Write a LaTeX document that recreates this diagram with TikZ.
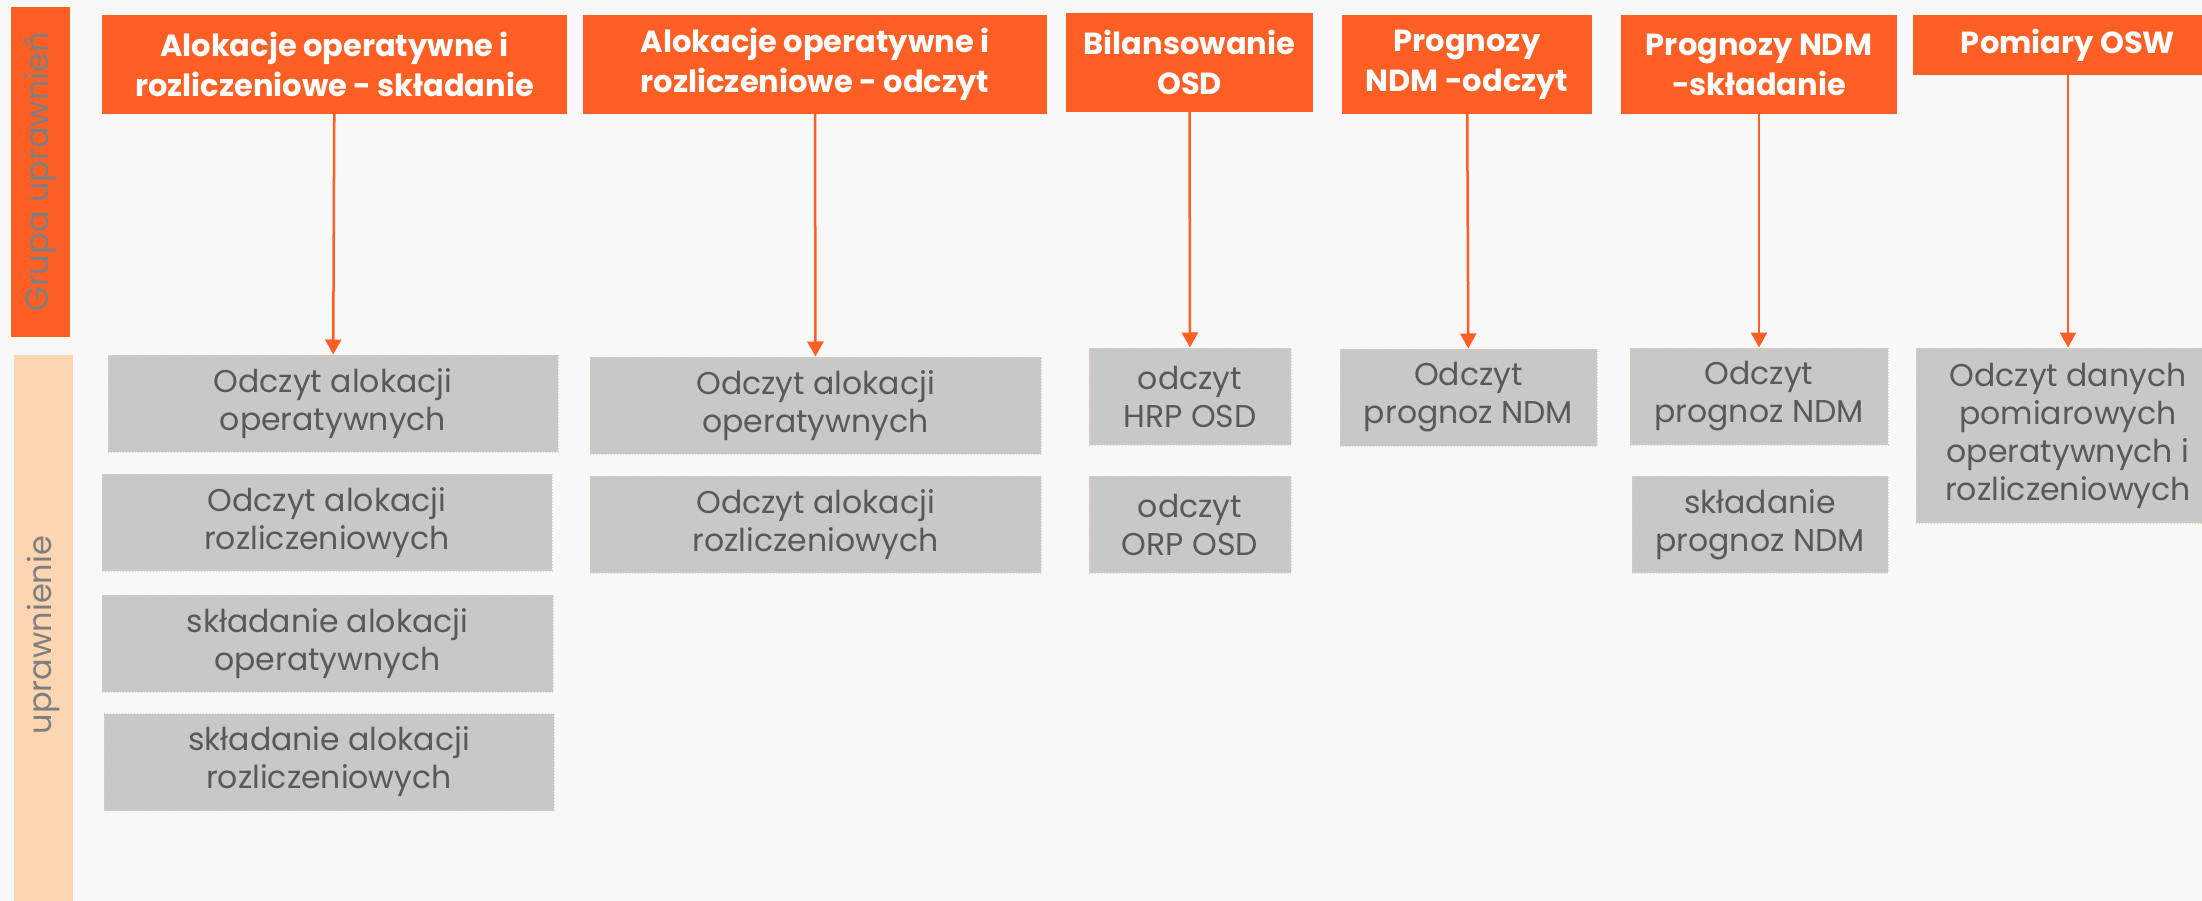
\documentclass[tikz,border=0pt]{standalone}
\usepackage{fontspec}
\setmainfont{Poppins}
\usetikzlibrary{arrows.meta}
\definecolor{orng}{HTML}{FF5F24}
\definecolor{peach}{HTML}{FCD5B1}
\definecolor{boxgray}{HTML}{C8C8C8}
\definecolor{txtgray}{HTML}{595959}
\definecolor{sidegray}{HTML}{7F7F7F}
\definecolor{bggray}{HTML}{F8F8F8}
\definecolor{edge}{HTML}{F8CBA4}

\begin{document}
\begin{tikzpicture}[x=1pt,y=-1pt,
    hdr/.style={fill=orng, text=white, align=center, inner sep=0pt,
        font=\fontsize{30.5}{40}\selectfont\bfseries},
    perm/.style={fill=boxgray, draw=edge, dotted, line width=1pt, text=txtgray,
        align=center, inner sep=0pt, minimum height=97pt,
        font=\fontsize{31.5}{38}\selectfont},
    side/.style={rotate=90, inner sep=0pt, minimum height=59pt, text=sidegray,
        font=\fontsize{32}{38}\selectfont},
    arr/.style={draw=orng, line width=2.5pt, -{Triangle[length=15pt,width=16pt]}}]
    \useasboundingbox (0,0) rectangle (2202,901);
    \fill[bggray] (0,0) rectangle (2202,901);
    \clip (0,0) rectangle (2202,901);

    \node[side, fill=orng, minimum width=330pt] (grupa) at (40.5,172) {Grupa uprawnień};
    \node[side, fill=peach, minimum width=560pt] (upr) at (43.5,635) {uprawnienie};

    \node[hdr, minimum width=465pt, minimum height=99pt] (h1) at (334.5,64.5) {Alokacje operatywne i\\rozliczeniowe - składanie};
    \node[hdr, minimum width=464pt, minimum height=99pt] (h2) at (815,64.5) {Alokacje operatywne i\\rozliczeniowe - odczyt};
    \node[hdr, minimum width=247pt, minimum height=99pt] (h3) at (1189.5,62.5) {Bilansowanie\\OSD};
    \node[hdr, minimum width=250pt, minimum height=99pt] (h4) at (1467,64.5) {Prognozy\\NDM -odczyt};
    \node[hdr, minimum width=276pt, minimum height=99pt] (h5) at (1759,64.5) {Prognozy NDM\\-składanie};
    \node[hdr, minimum width=310pt, minimum height=60pt] (h6) at (2068,45) {Pomiary OSW};

    \node[perm, minimum width=450pt] (b1a) at (333,403.5) {Odczyt alokacji\\operatywnych};
    \node[perm, minimum width=450pt] (b1b) at (327,522.5) {Odczyt alokacji\\rozliczeniowych};
    \node[perm, minimum width=451pt] (b1c) at (327.5,643.5) {składanie alokacji\\operatywnych};
    \node[perm, minimum width=450pt] (b1d) at (329,762) {składanie alokacji\\rozliczeniowych};

    \node[perm, minimum width=451pt] (b2a) at (815.5,405.5) {Odczyt alokacji\\operatywnych};
    \node[perm, minimum width=451pt] (b2b) at (815.5,524.5) {Odczyt alokacji\\rozliczeniowych};

    \node[perm, minimum width=202pt] (b3a) at (1190,396.5) {odczyt\\HRP OSD};
    \node[perm, minimum width=202pt] (b3b) at (1190,524.5) {odczyt\\ORP OSD};

    \node[perm, minimum width=257pt] (b4a) at (1468.5,397.5) {Odczyt\\prognoz NDM};

    \node[perm, minimum width=258pt] (b5a) at (1759,396.5) {Odczyt\\prognoz NDM};
    \node[perm, minimum width=256pt] (b5b) at (1760,524.5) {składanie\\prognoz NDM};

    \node[perm, minimum width=304pt, minimum height=175pt] (b6a) at (2068,435.5) {Odczyt danych\\pomiarowych\\operatywnych i\\rozliczeniowych};

    \draw[arr] (h1) -- (b1a);
    \draw[arr] (h2) -- (b2a);
    \draw[arr] (h3) -- (b3a);
    \draw[arr] (h4) -- (b4a);
    \draw[arr] (h5) -- (b5a);
    \draw[arr] (h6) -- (b6a);
\end{tikzpicture}
\end{document}
